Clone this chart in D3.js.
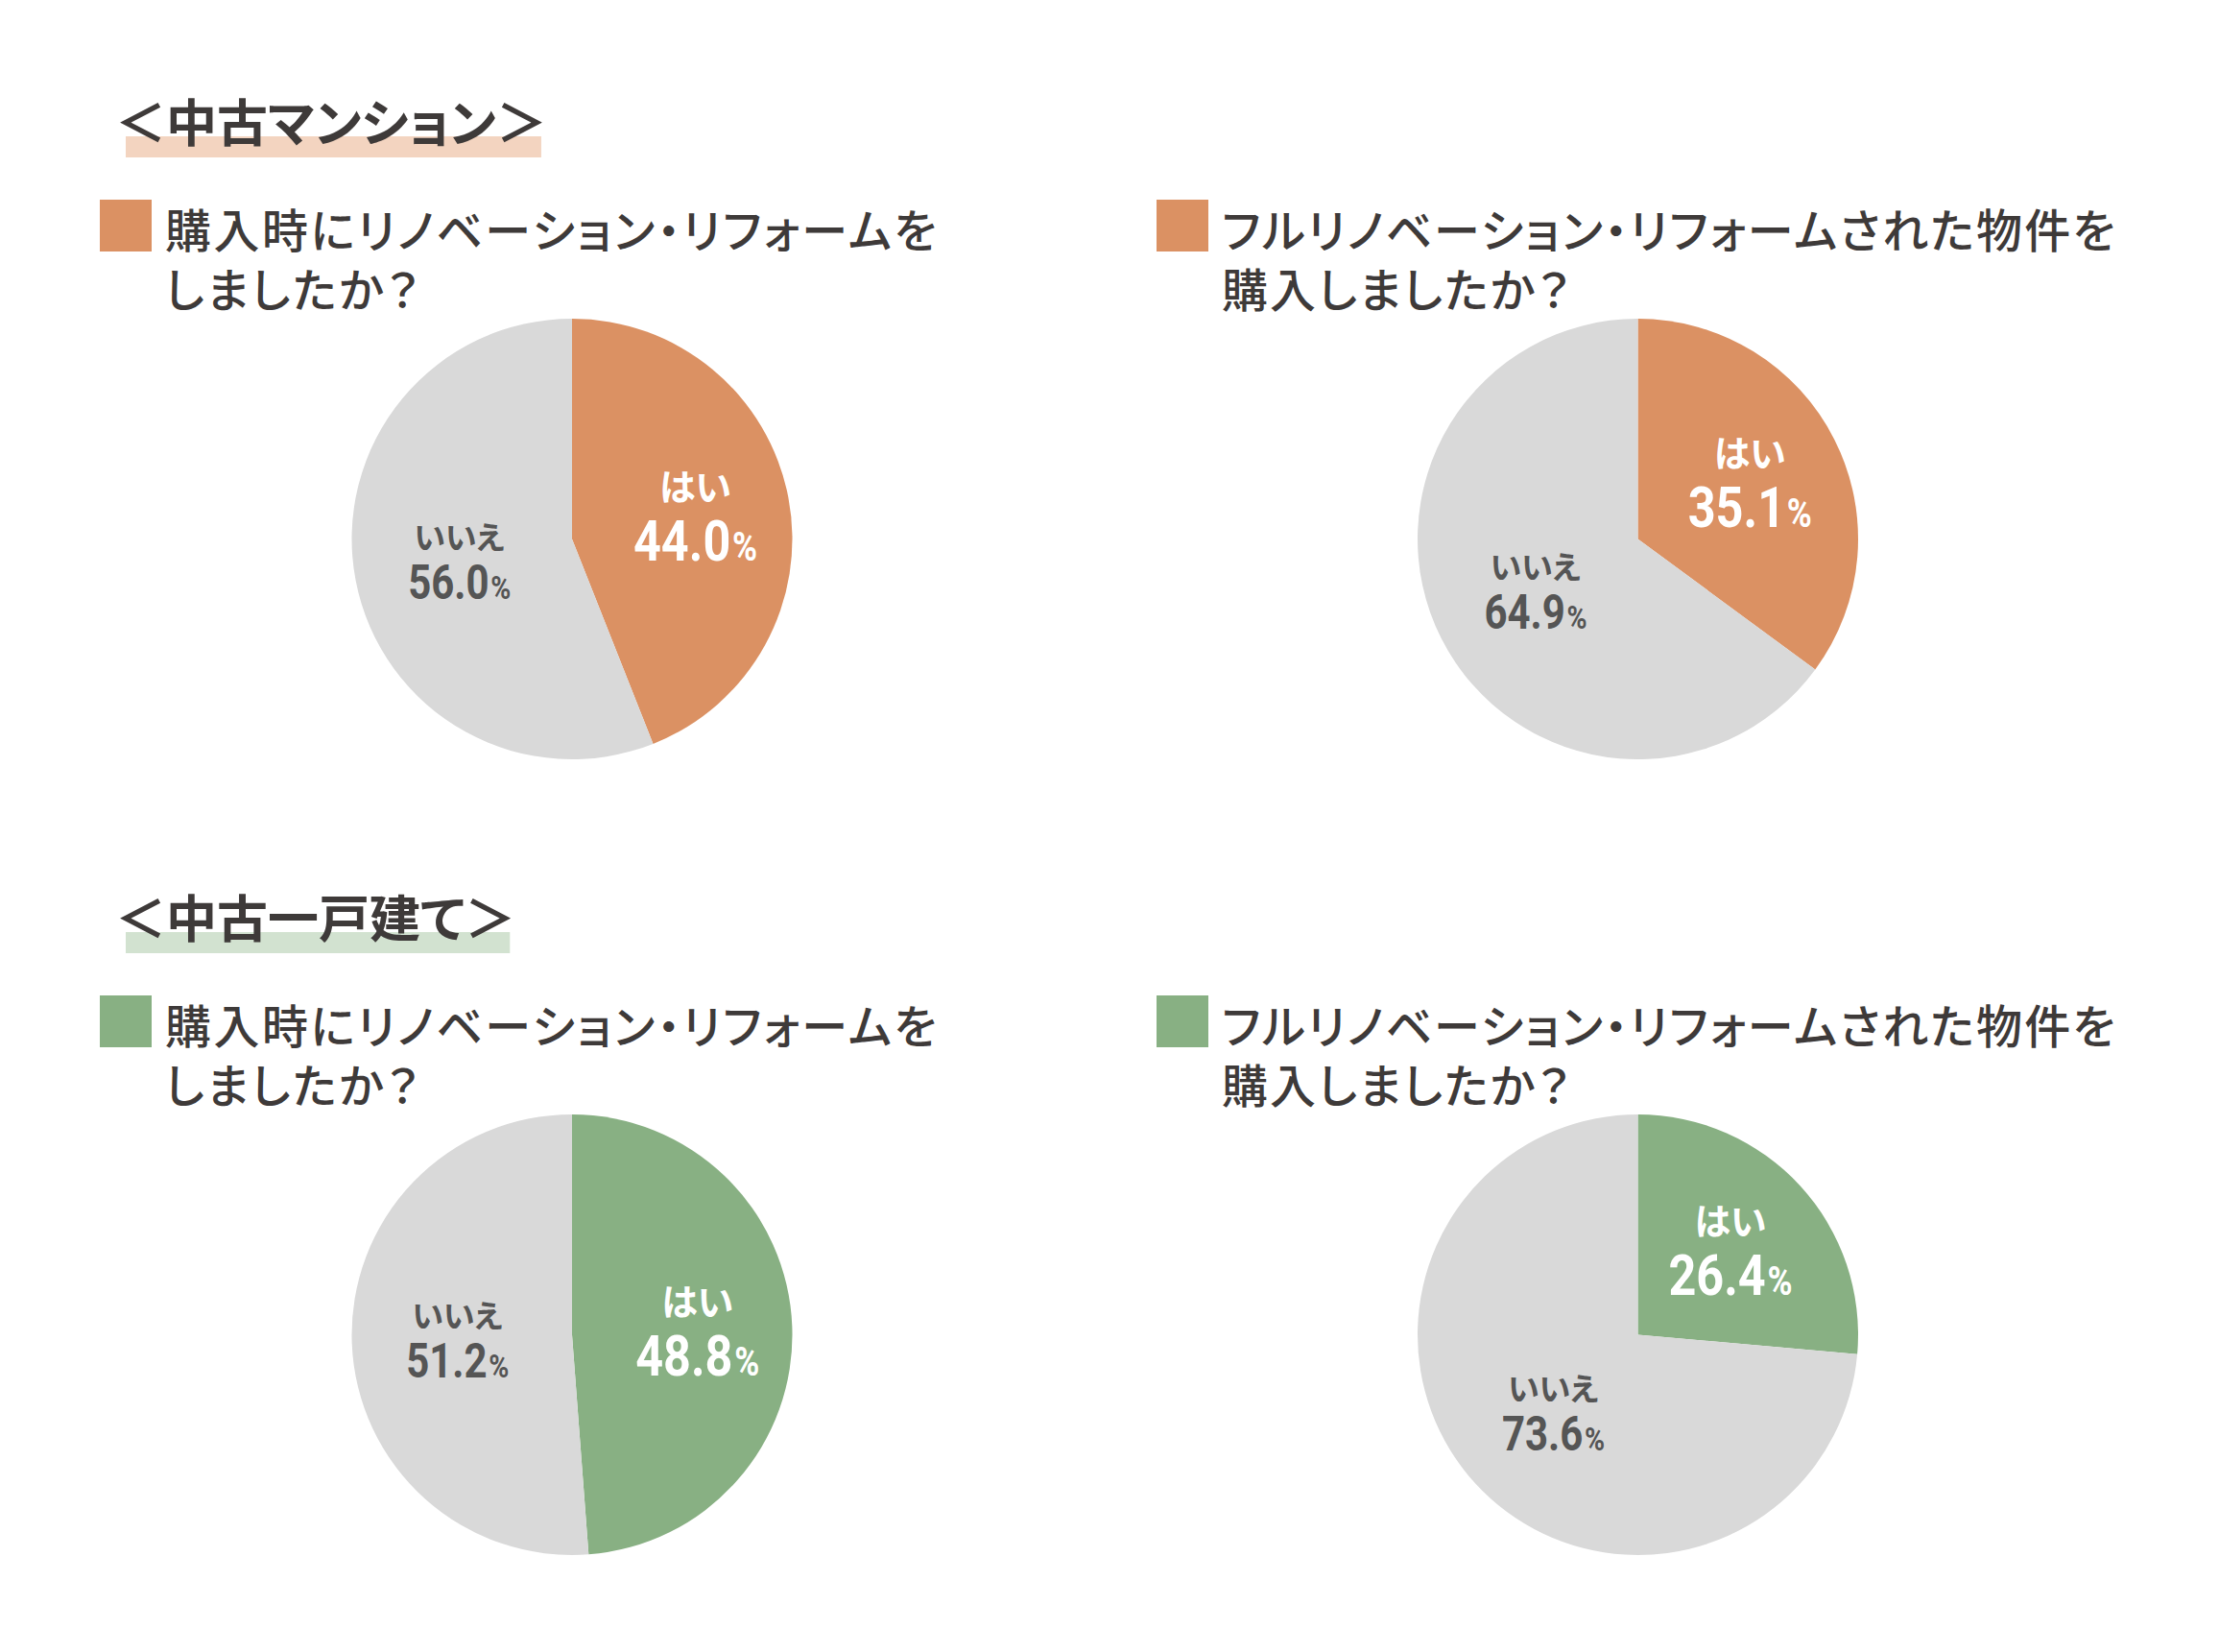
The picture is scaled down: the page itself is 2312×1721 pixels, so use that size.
<!DOCTYPE html>
<html>
<head>
<meta charset="utf-8">
<script src="https://cdn.jsdelivr.net/npm/d3@7"></script>
<style>
  html, body { margin: 0; padding: 0; background: #ffffff; }
  svg { display: block; }
  .jp { font-family: "Noto Sans CJK JP", "Noto Sans", sans-serif; font-feature-settings: "palt"; }
  .num { font-family: Roboto, "Noto Sans", sans-serif; }
</style>
</head>
<body>
<svg id="chart" width="2312" height="1721"></svg>
<script>
// ---- data ----
const sectionTitles = ["＜中古マンション＞", "＜中古一戸建て＞"];
const questionLines = [
  ["購入時にリノベーション・リフォームを", "しましたか？"],
  ["フルリノベーション・リフォームされた物件を", "購入しましたか？"]
];
const categories = ["はい", "いいえ"];
// yes share per section (rows) and question (columns)
const yesValues = [[44.0, 35.1], [48.8, 26.4]];
const noValues  = [[56.0, 64.9], [51.2, 73.6]];
const sectionColors = ["#db9163", "#88b083"];
const highlightColors = ["#f3d4c0", "#d2e2d0"];
const grayColor = "#d9d9d9";

// ---- layout ----
const W = 2312, H = 1721;
const svg = d3.select("#chart");
const textColor = "#3e3a39";
const noTextColor = "#555555";
const sectionY = [0, 829];
const colX = [596, 1706.5];
const pieCy = 561.5;
const radius = 229.5;

const pie = d3.pie().sort(null).value(d => d.value).startAngle(0).endAngle(2 * Math.PI);
const arc = d3.arc().innerRadius(0).outerRadius(radius);

sectionTitles.forEach((title, si) => {
  const g = svg.append("g").attr("transform", `translate(0,${sectionY[si]})`);

  // header with highlight bar
  const hl = g.append("rect").attr("fill", highlightColors[si]);
  const ht = g.append("text").attr("class", "jp")
    .attr("x", 120).attr("y", 148)
    .attr("font-size", 53).attr("font-weight", 700)
    .attr("fill", textColor)
    .text(title);
  const bb = ht.node().getBBox();
  hl.attr("x", bb.x + 11).attr("y", 142)
    .attr("width", bb.width - 17).attr("height", 22);
  ht.raise();

  questionLines.forEach((lines, qi) => {
    const cx = colX[qi];
    const qx = qi === 0 ? 104 : 1205;
    // legend square
    g.append("rect").attr("x", qx).attr("y", 208)
      .attr("width", 54).attr("height", 54)
      .attr("fill", sectionColors[si]);
    const qt = g.append("text").attr("class", "jp")
      .attr("font-size", 48).attr("font-weight", 500)
      .attr("letter-spacing", qi === 0 ? 2.5 : 2.1)
      .attr("fill", textColor);
    lines.forEach((ln, li) => {
      qt.append("tspan").attr("x", qx + 68).attr("y", 258 + li * 62).text(ln);
    });

    // pie
    const data = [
      { cat: categories[0], value: yesValues[si][qi] },
      { cat: categories[1], value: noValues[si][qi] }
    ];
    const arcs = pie(data);
    const pg = g.append("g").attr("transform", `translate(${cx},${pieCy})`);
    pg.selectAll("path").data(arcs).join("path")
      .attr("d", arc)
      .attr("fill", (d, i) => i === 0 ? sectionColors[si] : grayColor);

    arcs.forEach((a, i) => {
      const mid = (a.startAngle + a.endAngle) / 2;
      const lr = radius * (i === 0 ? 0.57 : 0.52);
      const lx = Math.sin(mid) * lr;
      const ly = -Math.cos(mid) * lr;
      const isYes = i === 0;
      const fill = isYes ? "#ffffff" : noTextColor;
      const labelSize = isYes ? 38 : 33;
      const valSize = isYes ? 60 : 50;
      const pctSize = isYes ? 42 : 34;
      const gap = isYes ? 63 : 52;
      const blockOffset = isYes ? 16 : 12;
      const baseY = ly - blockOffset;
      pg.append("text").attr("class", "jp")
        .attr("x", lx).attr("y", baseY)
        .attr("text-anchor", "middle")
        .attr("font-size", labelSize).attr("font-weight", 700)
        .attr("fill", fill)
        .text(a.data.cat);
      const vt = pg.append("text").attr("class", "num")
        .attr("text-anchor", "middle")
        .attr("font-weight", 700)
        .attr("fill", fill)
        .attr("transform", `translate(${lx},${baseY + gap}) scale(0.84,1)`);
      vt.append("tspan").attr("font-size", valSize).text(a.data.value.toFixed(1));
      vt.append("tspan").attr("font-size", pctSize).attr("dx", 2).text("%");
    });
  });
});
</script>
</body>
</html>
